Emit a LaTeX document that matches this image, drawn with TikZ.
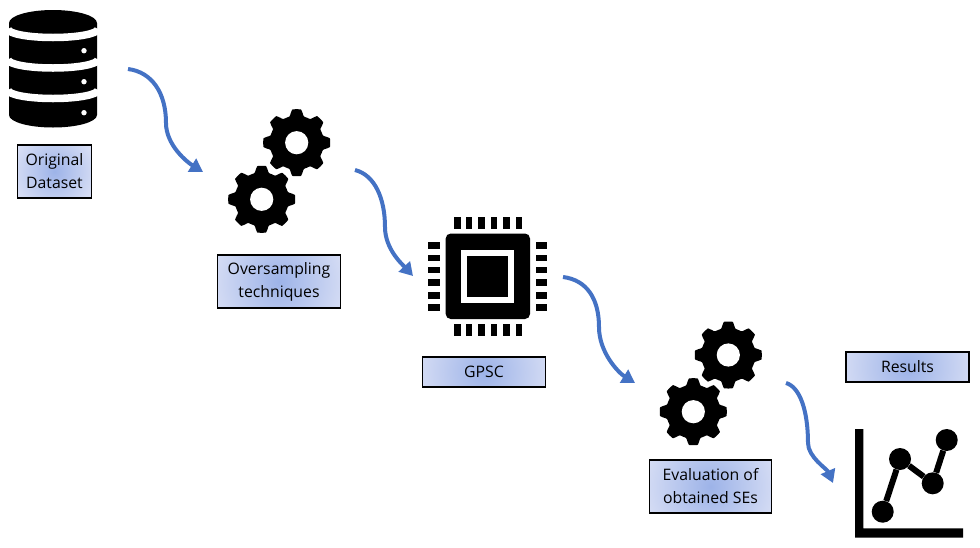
\documentclass[tikz,border=0pt]{standalone}
\usepackage{fontspec}
\setmainfont{Open Sans}
\usetikzlibrary{arrows.meta}
\definecolor{flowblue}{HTML}{4472C4}
\definecolor{boxin}{HTML}{9DB3E8}
\definecolor{boxout}{HTML}{E2E6F7}
\tikzset{gear/.pic={
	\fill[black] plot[domain=0:360, samples=321, rounded corners=1pt]
		({(27+6.5*min(1,max(0,0.5+cos(8*\x))))*cos(\x)},
		 {(27+6.5*min(1,max(0,0.5+cos(8*\x))))*sin(\x)}) -- cycle;
	\fill[white] (0,0) circle (11.6);
}}
\tikzset{glow/.style={path picture={
	\shade[inner color=boxin, outer color=boxout] (path picture bounding box.center) circle (#1);
}}}

\begin{document}
\begin{tikzpicture}[x=1pt, y=-1pt]
	\tikzstyle{label} = [ draw, line width=1.6pt, align=center, inner sep=0pt, font={\fontsize{15.8}{23}\selectfont}];
	\tikzstyle{flow} = [ draw=flowblue, line width=4pt, -{Triangle[length=13pt, width=15pt]}];
	\tikzstyle{pin} = [ fill=black ];
	\tikzstyle{dot} = [ circle, fill=black, minimum size=22pt, inner sep=0pt ];

	\useasboundingbox (0,0) rectangle (980,547);

	% dataset
	\fill[black] (9,23) arc[start angle=180, end angle=360, x radius=44, y radius=13]
		-- (97,115) arc[start angle=0, end angle=180, x radius=44, y radius=12.5] -- cycle;
	\foreach \yi in {29,59.5,90} {
		\draw[white, line width=7.5pt] (8,\yi) arc[start angle=180, end angle=0, x radius=45, y radius=8.5];
	}
	\foreach \yi in {50.7,81.7,112.7} {
		\fill[white] (84,\yi) circle (2.7);
	}

	% gears
	\pic at (296.7,142.7) {gear};
	\pic at (261.7,199.3) {gear};
	\pic at (728.3,355) {gear};
	\pic at (693.3,411.7) {gear};

	% chip
	\fill[black, rounded corners=5pt] (445.7,233.5) rectangle (530,319);
	\fill[white] (461,250) rectangle (514,302.7);
	\fill[black] (467,256) rectangle (508.3,297);
	\foreach \xi in {457.3,469,481.3,494,506.3,519} {
		\fill[pin] (\xi-3.2,216.7) rectangle (\xi+3.2,229);
		\fill[pin] (\xi-3.2,324) rectangle (\xi+3.2,336);
	}
	\foreach \yi in {245.3,257.7,270,282.3,295.3,307.3} {
		\fill[pin] (428,\yi-3.2) rectangle (440,\yi+3.2);
		\fill[pin] (536,\yi-3.2) rectangle (547,\yi+3.2);
	}

	% chart
	\fill[black] (855,429) -- (863.3,429) -- (863.3,528.3) -- (963,528.3) -- (963,537.7) -- (855,537.7) -- cycle;
	\foreach \xi/\xx/\yy in {1/882.7/511.7,2/900/459,3/932.7/483.3,4/946.7/440} {
		\node[dot] (pt\xi) at (\xx,\yy) {};
	}
	\draw[black, line width=6pt] (pt1) -- (pt2) -- (pt3) -- (pt4);

	% labels
	\node[label, glow=50pt, minimum width=74pt, minimum height=53pt] (dataset) at (54.5,171.5) {Original\\Dataset};
	\node[label, glow=82pt, minimum width=123pt, minimum height=53pt] (oversampling) at (279,281.5) {Oversampling\\techniques};
	\node[label, glow=82pt, minimum width=123pt, minimum height=30pt] (gpsc) at (484,372) {GPSC};
	\node[label, glow=82pt, minimum width=122pt, minimum height=53pt] (evaluation) at (710.5,486.5) {Evaluation of\\obtained SEs};
	\node[label, glow=82pt, minimum width=123pt, minimum height=30pt] (results) at (907.5,367) {Results};

	% arrows
	\coordinate (a1) at (128,69);
	\coordinate (m1) at (166,123);
	\coordinate (b1) at (203,172);
	\coordinate (a2) at (355,170);
	\coordinate (m2) at (385,227);
	\coordinate (b2) at (413,276);
	\coordinate (a3) at (563,277);
	\coordinate (m3) at (599,327);
	\coordinate (b3) at (635,383);
	\coordinate (a4) at (786,383);
	\coordinate (m4) at (808,443);
	\coordinate (b4) at (833,483);

	\draw[flow] (a1) .. controls +(24,3) and +(0,-30) .. (m1) .. controls +(0,22) and +(-16,-10) .. (b1);
	\draw[flow] (a2) .. controls +(20,5) and +(0,-28) .. (m2) .. controls +(0,22) and +(-11,-12) .. (b2);
	\draw[flow] (a3) .. controls +(24,3) and +(0,-28) .. (m3) .. controls +(0,26) and +(-16,-10) .. (b3);
	\draw[flow] (a4) .. controls +(14,4) and +(0,-32) .. (m4) .. controls +(0,14) and +(-6,-14) .. (b4);
\end{tikzpicture}
\end{document}
